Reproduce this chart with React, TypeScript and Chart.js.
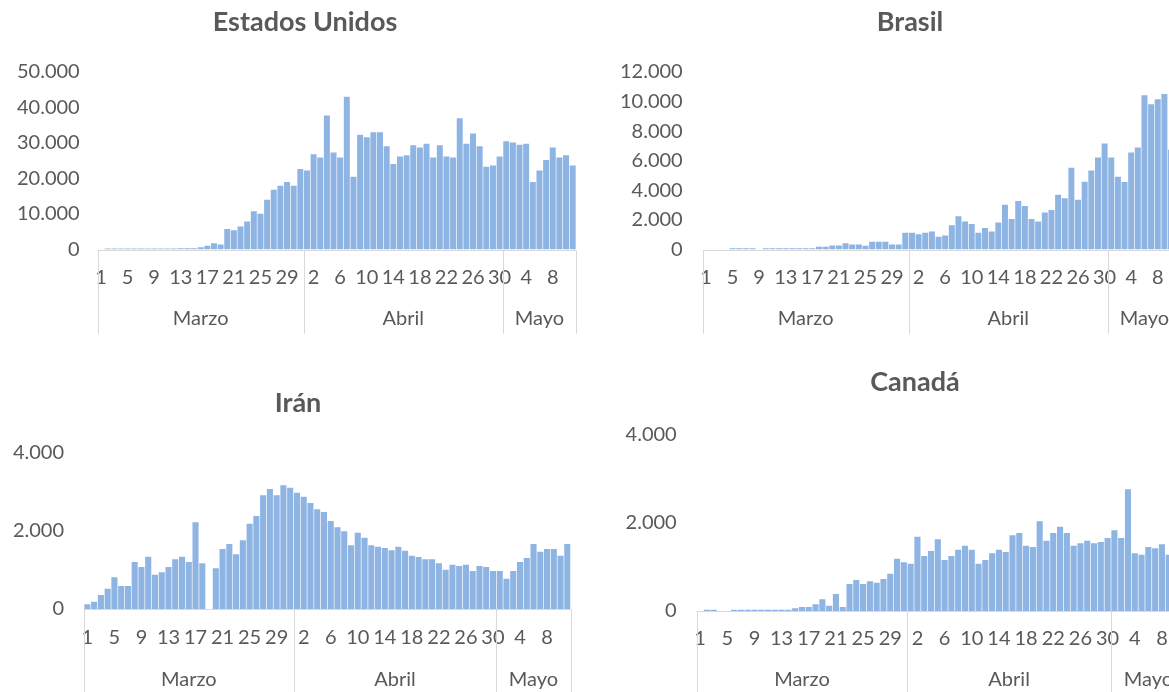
import React, { useEffect, useRef } from 'react';
import { Chart, registerables } from 'chart.js';

Chart.register(...registerables);

// ---------- DATA ----------
const days = [
  1, 2, 3, 4, 5, 6, 7, 8, 9, 10, 11, 12, 13, 14, 15, 16, 17, 18, 19, 20, 21, 22, 23, 24, 25, 26, 27, 28, 29, 30, 31,
  1, 2, 3, 4, 5, 6, 7, 8, 9, 10, 11, 12, 13, 14, 15, 16, 17, 18, 19, 20, 21, 22, 23, 24, 25, 26, 27, 28, 29, 30,
  1, 2, 3, 4, 5, 6, 7, 8, 9, 10, 11,
];
const months = ['Marzo', 'Abril', 'Mayo'];
const monthLengths = [31, 30, 11];

const usa = [
  0, 300, 300, 300, 300, 300, 300, 300, 300, 300, 300, 300, 350, 350, 350,
  655, 1030, 1780, 1400, 5800, 5430, 6460, 7860, 10760, 10100, 14040, 16850, 17970, 19000, 17970,
  22650, 22280, 26860, 25930, 37720, 27330, 25930, 43060, 20500, 32290, 31640, 33040, 33040, 29110,
  24060, 26210, 26580, 29390, 28740, 29760, 25930, 29390, 26210, 25930, 36970, 29760, 32670, 29110,
  23310, 23680, 26210, 30510, 30140, 29480, 29760, 19000, 22280, 25180, 28740, 25930, 26580, 23680,
];

const brasil = [
  0, 0, 0, 0, 90, 90, 90, 90, 0, 90, 90, 90, 90, 90, 90, 90, 90, 180, 180, 270, 270,
  427, 337, 337, 247, 517, 517, 517, 337, 337,
  1124, 1124, 1034, 1124, 1213, 854, 944, 1640, 2247, 1887, 1730, 1124, 1460, 1213, 1820, 3033,
  2067, 3280, 2943, 2067, 1887, 2494, 2674, 3707, 3460, 5527, 3370, 4583, 5347, 6224, 7168,
  6224, 4921, 4561, 6561, 6898, 10426, 9819, 10156, 10516, 6741, 5630,
];

const iran = [
  119, 187, 358, 520, 809, 588, 588, 1201, 1073, 1338,
  878, 937, 1073, 1269, 1338, 1201, 2215, 1167, 0, 1039,
  1533, 1661, 1397, 1755, 2181, 2377, 2905, 3067, 2905, 3161,
  3101, 2973, 2871, 2709, 2547, 2479, 2249, 2087, 1985, 1627,
  1951, 1823, 1627, 1593, 1559, 1500, 1593, 1491, 1363, 1329,
  1269, 1269, 1167, 1005, 1133, 1099, 1133, 971, 1099, 1073,
  971, 971, 775, 971, 1201, 1303, 1661, 1465, 1533, 1533,
  1363, 1661,
];

const canada = [
  0, 30, 30, 0, 0, 30, 30, 30, 30, 30,
  30, 30, 30, 30, 60, 91, 91, 151, 264, 121,
  385, 91, 612, 703, 612, 672, 642, 725, 846, 1186,
  1103, 1073, 1685, 1246, 1360, 1624, 1156, 1246, 1390, 1481,
  1390, 1073, 1156, 1307, 1390, 1337, 1715, 1768, 1481, 1450,
  2032, 1594, 1768, 1911, 1768, 1481, 1533, 1594, 1533, 1564,
  1654, 1828, 1654, 2757, 1307, 1277, 1450, 1420, 1511, 1277,
  1150, 1200,
];

// ---------- STYLE ----------
const BAR = '#8EB4E3';
const TEXT = '#595959';
const LINE = '#D9D9D9';
const FONT = 'Lato, "Open Sans", sans-serif';
const TICK_SIZE = 20;
const TITLE_SIZE = 27;

type PanelCfg = {
  title: string;
  values: number[];
  yMax: number;
  yStep: number;
  left: number; top: number; width: number; height: number; // canvas in page coords
  plotLeft: number; plotRight: number; plotTop: number; plotBottom: number; // page coords
  titleX: number; titleY: number; // page coords
  yPad: number;
  dayOffset: number;
  monthOffset: number;
  sepLen: number;
};

const panels: PanelCfg[] = [
  {
    title: 'Estados Unidos', values: usa, yMax: 50000, yStep: 10000,
    left: 0, top: 0, width: 610, height: 346,
    plotLeft: 97.7, plotRight: 576, plotTop: 72, plotBottom: 249.5,
    titleX: 305, titleY: 22, yPad: 18, dayOffset: 28, monthOffset: 69, sepLen: 83.5,
  },
  {
    title: 'Brasil', values: brasil, yMax: 12000, yStep: 2000,
    left: 605, top: 0, width: 610, height: 346,
    plotLeft: 702.7, plotRight: 1181, plotTop: 72, plotBottom: 249.5,
    titleX: 910, titleY: 22, yPad: 20, dayOffset: 28, monthOffset: 69, sepLen: 83.5,
  },
  {
    title: 'Irán', values: iran, yMax: 4000, yStep: 2000,
    left: 0, top: 350, width: 610, height: 350,
    plotLeft: 84, plotRight: 570.7, plotTop: 452.5, plotBottom: 609,
    titleX: 298, titleY: 403, yPad: 20, dayOffset: 28.5, monthOffset: 70.5, sepLen: 95,
  },
  {
    title: 'Canadá', values: canada, yMax: 4000, yStep: 2000,
    left: 610, top: 350, width: 610, height: 350,
    plotLeft: 696.7, plotRight: 1185.7, plotTop: 434.5, plotBottom: 611,
    titleX: 915, titleY: 382, yPad: 20, dayOffset: 27.5, monthOffset: 68.5, sepLen: 95,
  },
];

function fmt(v: number): string {
  return String(Math.round(v)).replace(/\B(?=(\d{3})+(?!\d))/g, '.');
}

const groupPlugin = {
  id: 'monthGroups',
  afterDatasetsDraw(chart: any, _args: any, opts: any) {
    const { ctx, chartArea } = chart;
    const xs = chart.scales.x;
    const ys = chart.scales.y;
    const base = ys.getPixelForValue(0);
    const half = (xs.getPixelForValue(1) - xs.getPixelForValue(0)) / 2;
    const by = Math.round(base) + 0.5;
    ctx.save();
    ctx.strokeStyle = LINE;
    ctx.lineWidth = 1;
    ctx.beginPath();
    ctx.moveTo(chartArea.left, by);
    ctx.lineTo(chartArea.right, by);
    ctx.stroke();

    let start = 0;
    const bounds: number[] = [];
    for (let m = 0; m < monthLengths.length; m++) {
      bounds.push(xs.getPixelForValue(start) - half);
      start += monthLengths[m];
    }
    bounds.push(xs.getPixelForValue(start - 1) + half);
    ctx.beginPath();
    for (const b of bounds) {
      const bx = Math.round(b) + 0.5;
      ctx.moveTo(bx, by);
      ctx.lineTo(bx, by + opts.sepLen);
    }
    ctx.stroke();

    ctx.fillStyle = TEXT;
    ctx.font = `${TICK_SIZE}px ${FONT}`;
    ctx.textAlign = 'center';
    ctx.textBaseline = 'middle';
    for (let m = 0; m < months.length; m++) {
      ctx.fillText(months[m], (bounds[m] + bounds[m + 1]) / 2, base + opts.monthOffset);
    }

    // chart title
    ctx.font = `bold ${TITLE_SIZE}px ${FONT}`;
    ctx.fillText(opts.title, opts.titleX, opts.titleY);
    ctx.restore();
  },
};

function Panel({ cfg }: { cfg: PanelCfg }) {
  const ref = useRef<HTMLCanvasElement | null>(null);
  useEffect(() => {
    if (!ref.current) return;
    const lx = cfg.plotLeft - cfg.left;
    const rx = cfg.plotRight - cfg.left;
    const pt = cfg.plotTop - cfg.top;
    const pb = cfg.plotBottom - cfg.top;
    const xH = cfg.height - pb;
    const tickLH = TICK_SIZE * 1.2;

    const chart = new Chart(ref.current, {
      type: 'bar',
      data: {
        labels: days.map(String),
        datasets: [
          {
            data: cfg.values,
            backgroundColor: BAR,
            borderWidth: 0,
            barPercentage: 0.9,
            categoryPercentage: 1,
          },
        ],
      },
      options: {
        responsive: false,
        animation: false,
        devicePixelRatio: 1,
        layout: { padding: { left: 0, right: cfg.width - rx, top: pt, bottom: 0 } },
        plugins: {
          legend: { display: false },
          tooltip: { enabled: false },
          title: { display: false },
          monthGroups: {
            monthOffset: cfg.monthOffset,
            sepLen: cfg.sepLen,
            title: cfg.title,
            titleX: cfg.titleX - cfg.left,
            titleY: cfg.titleY - cfg.top,
          },
        } as any,
        scales: {
          x: {
            grid: { display: false, drawTicks: false },
            border: { display: false },
            ticks: {
              autoSkip: false,
              maxRotation: 0,
              minRotation: 0,
              color: TEXT,
              font: { family: FONT, size: TICK_SIZE },
              padding: cfg.dayOffset - tickLH / 2,
              callback: (_v: any, i: number) => (i % 4 === 0 ? String(days[i]) : ''),
            },
            afterFit: (s: any) => { s.height = xH; },
          },
          y: {
            min: 0,
            max: cfg.yMax,
            grid: { display: false, drawTicks: false },
            border: { display: false },
            ticks: {
              stepSize: cfg.yStep,
              color: TEXT,
              font: { family: FONT, size: TICK_SIZE },
              padding: cfg.yPad,
              callback: (v: any) => fmt(Number(v)),
            },
            afterFit: (s: any) => { s.width = lx; },
          },
        },
      },
      plugins: [groupPlugin],
    });
    return () => chart.destroy();
  }, [cfg]);

  return (
    <canvas
      ref={ref}
      width={cfg.width}
      height={cfg.height}
      style={{ position: 'absolute', left: cfg.left, top: cfg.top, width: cfg.width, height: cfg.height, display: 'block' }}
    />
  );
}

export default function App() {
  return (
    <div
      style={{
        position: 'absolute',
        left: 0,
        top: 0,
        width: 1169,
        height: 692,
        overflow: 'hidden',
        background: '#FFFFFF',
      }}
    >
      {panels.map((p) => (
        <Panel key={p.title} cfg={p} />
      ))}
    </div>
  );
}
